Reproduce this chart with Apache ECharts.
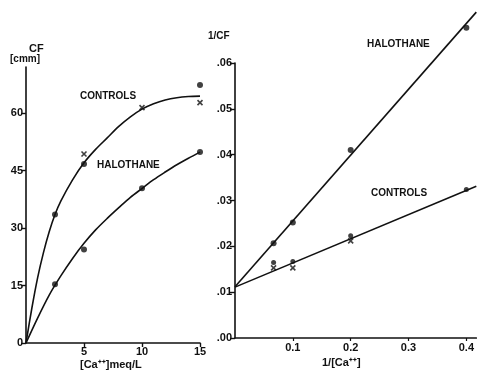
<!DOCTYPE html>
<html><head><meta charset="utf-8">
<script src="https://cdn.jsdelivr.net/npm/echarts@6/dist/echarts.min.js"></script>
<style>html,body{margin:0;padding:0;background:#fff}#c{width:477px;height:372px}</style>
</head><body><div id="c"></div>
<script>
// Left panel: CF vs [Ca++]
const leftYTicks = [0, 15, 30, 45, 60];
const leftXTicks = [5, 10, 15];
const ctrlDots = [[2.5, 33.5], [5, 46.7], [15, 67.3]];
const ctrlCross = [[5, 49.3], [10, 61.4], [15, 62.7]];
const haloDots = [[2.5, 15.3], [5, 24.4], [10, 40.4], [15, 49.8]];
const ctrlCurve = [[0,0],[0.5,9],[1,17],[1.5,23.5],[2,29],[2.5,33.5],[3,37],[4,42.5],[5,47],[6,50.5],[7,53.5],[8,56.5],[9,59],[10,61],[11,62.4],[12,63.4],[13,64],[14,64.3],[15,64.4]];
const haloCurve = [[0,0],[1,6.5],[2,12.5],[3,17.5],[4,22],[5,26],[6,29.5],[7,32.5],[8,35.3],[9,38],[10,40.3],[11,42.6],[12,44.6],[13,46.5],[14,48.2],[15,49.8]];
// Right panel: 1/CF vs 1/[Ca++]
const rightYTicks = [0, 0.01, 0.02, 0.03, 0.04, 0.05, 0.06];
const rightXTicks = [0.1, 0.2, 0.3, 0.4];
const haloRecDots = [[0.0667, 0.0207], [0.1, 0.0252], [0.2, 0.041], [0.4, 0.0677]];
const ctrlRecDots = [[0.0667, 0.0165], [0.1, 0.0167], [0.2, 0.0223], [0.4, 0.0324]];
const ctrlRecCross = [[0.0667, 0.0153], [0.1, 0.0153], [0.2, 0.0212]];
const haloLine = [[0, 0.0112], [0.4172, 0.0711]];
const ctrlLine = [[0, 0.0111], [0.4172, 0.0331]];

const F = '"Liberation Sans", Arial, sans-serif';
const X_PATH = 'path://M0,0L10,10M10,0L0,10';
const black = '#111';
const lab = {fontFamily: F, fontWeight: 'bold', fontSize: 11, color: black};

const chart = echarts.init(document.getElementById('c'));
chart.setOption({
  animation: false,
  backgroundColor: '#fff',
  grid: [
    {left: 26, right: 277, top: 67, bottom: 29},
    {left: 235, right: 0, top: 63, bottom: 34}
  ],
  xAxis: [
    {gridIndex: 0, type: 'value', min: 0, max: 15,
     axisLine: {lineStyle: {color: black, width: 1.6}},
     axisTick: {show: true, inside: false, length: 4, customValues: leftXTicks, lineStyle: {color: black, width: 1.4}},
     axisLabel: Object.assign({margin: 3, customValues: leftXTicks}, lab),
     splitLine: {show: false}},
    {gridIndex: 1, type: 'value', min: 0, max: 0.4172,
     axisLine: {lineStyle: {color: black, width: 1.6}},
     axisTick: {show: true, length: 3, customValues: rightXTicks, lineStyle: {color: black, width: 1.2}},
     axisLabel: Object.assign({margin: 4, customValues: rightXTicks, formatter: v => v.toFixed(1)}, lab),
     splitLine: {show: false}}
  ],
  yAxis: [
    {gridIndex: 0, type: 'value', min: 0, max: 72,
     axisLine: {show: true, lineStyle: {color: black, width: 1.6}},
     axisTick: {show: true, length: 5, customValues: leftYTicks, lineStyle: {color: black, width: 1.4}},
     axisLabel: Object.assign({margin: 3, customValues: leftYTicks}, lab),
     splitLine: {show: false}},
    {gridIndex: 1, type: 'value', min: 0, max: 0.06,
     axisLine: {show: true, lineStyle: {color: black, width: 1.6}},
     axisTick: {show: true, length: 5, customValues: rightYTicks, lineStyle: {color: black, width: 1.4}},
     axisLabel: Object.assign({margin: 3, customValues: rightYTicks,
       formatter: v => '.' + String(Math.round(v * 100)).padStart(2, '0')}, lab),
     splitLine: {show: false}}
  ],
  series: [
    {type: 'line', xAxisIndex: 0, yAxisIndex: 0, data: ctrlCurve, smooth: 0.3, symbol: 'none',
     lineStyle: {color: black, width: 1.6}},
    {type: 'line', xAxisIndex: 0, yAxisIndex: 0, data: haloCurve, smooth: 0.3, symbol: 'none',
     lineStyle: {color: black, width: 1.6}},
    {type: 'scatter', xAxisIndex: 0, yAxisIndex: 0, data: ctrlDots, symbol: 'circle', symbolSize: 6,
     itemStyle: {color: black}},
    {type: 'scatter', xAxisIndex: 0, yAxisIndex: 0, data: ctrlCross, symbol: X_PATH, symbolSize: 5,
     itemStyle: {color: 'none', borderColor: black, borderWidth: 1.6}},
    {type: 'scatter', xAxisIndex: 0, yAxisIndex: 0, data: haloDots, symbol: 'circle', symbolSize: 6,
     itemStyle: {color: black}},
    {type: 'line', xAxisIndex: 1, yAxisIndex: 1, data: haloLine, symbol: 'none', clip: false,
     lineStyle: {color: black, width: 1.6}},
    {type: 'line', xAxisIndex: 1, yAxisIndex: 1, data: ctrlLine, symbol: 'none', clip: false,
     lineStyle: {color: black, width: 1.6}},
    {type: 'scatter', xAxisIndex: 1, yAxisIndex: 1, data: haloRecDots, symbol: 'circle', symbolSize: 6,
     clip: false, itemStyle: {color: black}},
    {type: 'scatter', xAxisIndex: 1, yAxisIndex: 1, data: ctrlRecDots, symbol: 'circle', symbolSize: 5,
     itemStyle: {color: black}},
    {type: 'scatter', xAxisIndex: 1, yAxisIndex: 1, data: ctrlRecCross, symbol: X_PATH, symbolSize: 5,
     itemStyle: {color: 'none', borderColor: black, borderWidth: 1.6}}
  ],
  graphic: [
    {type: 'text', left: 29, top: 43, style: {text: 'CF', font: 'bold 11px ' + F, fill: black}},
    {type: 'text', left: 10, top: 54, style: {text: '[cmm]', font: 'bold 10px ' + F, fill: black}},
    {type: 'text', left: 80, top: 91, style: {text: 'CONTROLS', font: 'bold 10px ' + F, fill: black}},
    {type: 'text', left: 97, top: 160, style: {text: 'HALOTHANE', font: 'bold 10px ' + F, fill: black}},
    {type: 'text', left: 80, top: 359, style: {text: '[Ca⁺⁺]meq/L', font: 'bold 11px ' + F, fill: black}},
    {type: 'text', left: 208, top: 31, style: {text: '1/CF', font: 'bold 10px ' + F, fill: black}},
    {type: 'text', left: 367, top: 39, style: {text: 'HALOTHANE', font: 'bold 10px ' + F, fill: black}},
    {type: 'text', left: 371, top: 188, style: {text: 'CONTROLS', font: 'bold 10px ' + F, fill: black}},
    {type: 'text', left: 322, top: 357, style: {text: '1/[Ca⁺⁺]', font: 'bold 11px ' + F, fill: black}}
  ]
});
</script></body></html>
